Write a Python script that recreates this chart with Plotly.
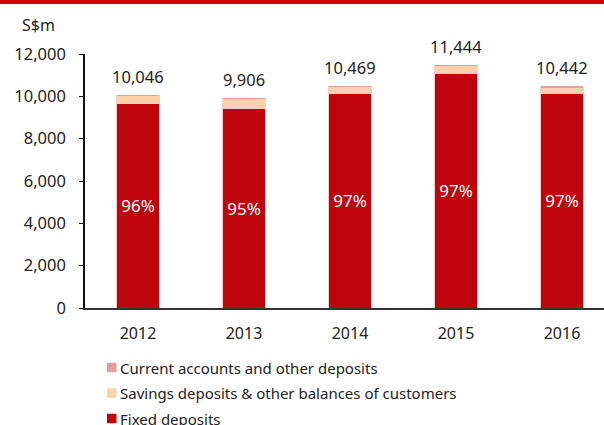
import plotly.graph_objects as go

# Customer deposits by type, S$ millions
years = ["2012", "2013", "2014", "2015", "2016"]
totals = [10046, 9906, 10469, 11444, 10442]
fixed = [9644, 9411, 10155, 11101, 10129]
savings = [392, 485, 304, 333, 303]
current = [10, 10, 10, 10, 10]
fixed_share = ["96%", "95%", "97%", "97%", "97%"]
series_names = [
    "Current accounts and other deposits",
    "Savings deposits & other balances of customers",
    "Fixed deposits",
]
y_ticks = [0, 2000, 4000, 6000, 8000, 10000, 12000]

C_FIXED = "#BE050C"
C_SAVINGS = "#FBD2A9"
C_CURRENT = "#E89C9E"
EDGE = "rgba(245,205,205,1)"
FONT = "Noto Sans"
TXT = "#222222"

# plot-area geometry in pixels
W, H = 604, 425
L, R, T, B = 85, 0, 54, 117
pw, ph = W - L - R, H - T - B

def px_x(x):
    return (x - L) / pw

def px_y(y):
    return (H - B - y) / ph

fig = go.Figure()
fig.add_bar(
    x=years, y=fixed, name=series_names[2], marker_color=C_FIXED,
    marker_line=dict(color=EDGE, width=1), width=0.4,
    text=fixed_share, textposition="inside", insidetextanchor="middle",
    textangle=0, constraintext="none",
    textfont=dict(color="white", size=17, family=FONT),
)
fig.add_bar(
    x=years, y=savings, name=series_names[1], marker_color=C_SAVINGS,
    marker_line=dict(color=EDGE, width=1), width=0.4,
)
fig.add_bar(
    x=years, y=current, name=series_names[0], marker_color=C_CURRENT,
    marker_line=dict(color=EDGE, width=0), width=0.4,
)

annotations = []
# total labels above each stack
for i, tot in enumerate(totals):
    annotations.append(dict(
        x=i, y=tot, xref="x", yref="y", text=f"{tot:,}", showarrow=False,
        yshift=19, font=dict(size=16.5, color=TXT, family=FONT),
    ))
# unit label
annotations.append(dict(
    x=px_x(20), y=px_y(25), xref="paper", yref="paper", text="S$m",
    showarrow=False, xanchor="left", yanchor="middle",
    font=dict(size=16, color=TXT, family=FONT),
))

shapes = [
    # red band across the top
    dict(type="rect", xref="paper", yref="paper", x0=px_x(0), x1=px_x(W),
         y0=px_y(4), y1=px_y(0), fillcolor="#D0000B", line_width=0, layer="above"),
]

# legend: colour swatch plus label per series
legend_colors = [C_CURRENT, C_SAVINGS, C_FIXED]
legend_rows = [367.5, 393, 418.5]
for name, col, yc in zip(series_names, legend_colors, legend_rows):
    shapes.append(dict(
        type="rect", xref="paper", yref="paper",
        x0=px_x(107), x1=px_x(116.5), y0=px_y(yc + 4.75), y1=px_y(yc - 4.75),
        fillcolor=col, line_width=0,
    ))
    annotations.append(dict(
        x=px_x(118), y=px_y(yc), xref="paper", yref="paper", text=name,
        showarrow=False, xanchor="left", yanchor="middle",
        font=dict(size=15, color=TXT, family=FONT),
    ))

fig.update_layout(
    width=W, height=H, barmode="stack", showlegend=False,
    margin=dict(l=L, r=R, t=T, b=B, pad=0),
    paper_bgcolor="white", plot_bgcolor="white",
    font=dict(family=FONT, size=16, color=TXT),
    annotations=annotations, shapes=shapes,
    xaxis=dict(
        type="category",
        range=[-0.5, -0.5 + pw / 106.0], showline=True, linecolor="#333333",
        linewidth=1.5, ticks="", showgrid=False, zeroline=False,
        ticklabelstandoff=10, tickfont=dict(size=16, color=TXT, family=FONT),
    ),
    yaxis=dict(
        range=[0, 12000], tickvals=y_ticks, tickformat=",", showline=True,
        linecolor="#111111", linewidth=1.5, ticks="outside", ticklen=4,
        tickcolor="#111111", showgrid=False, zeroline=False,
        ticklabelstandoff=10, tickfont=dict(size=16.5, color=TXT, family=FONT),
    ),
)

fig.write_html("out.html")
